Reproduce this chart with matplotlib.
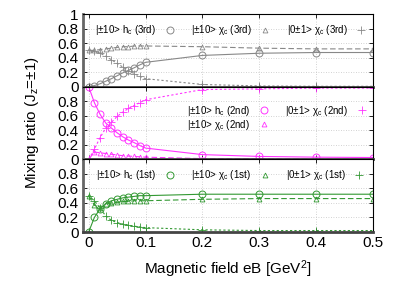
import matplotlib
matplotlib.use("Agg")
import matplotlib.pyplot as plt
from matplotlib.lines import Line2D

plt.rcParams['font.family'] = ['Liberation Sans', 'DejaVu Sans']
plt.rcParams['mathtext.fontset'] = 'custom'
plt.rcParams['mathtext.rm'] = 'Liberation Sans'
plt.rcParams['mathtext.it'] = 'Liberation Sans:italic'

eB = [0.0, 0.01, 0.02, 0.03, 0.04, 0.05, 0.06, 0.07, 0.08, 0.09, 0.10, 0.2, 0.3, 0.4, 0.5]

# 3rd
hc3 = [0.0, 0.015, 0.04, 0.075, 0.11, 0.15, 0.19, 0.225, 0.26, 0.30, 0.335, 0.43, 0.46, 0.47, 0.47]
chi3 = [0.50, 0.50, 0.51, 0.52, 0.53, 0.54, 0.55, 0.55, 0.56, 0.56, 0.56, 0.55, 0.53, 0.52, 0.52]
p3 = [0.50, 0.49, 0.46, 0.42, 0.37, 0.32, 0.27, 0.22, 0.18, 0.14, 0.11, 0.03, 0.01, 0.005, 0.005]
# 2nd
hc2 = [1.0, 0.78, 0.62, 0.50, 0.43, 0.365, 0.31, 0.265, 0.23, 0.19, 0.155, 0.065, 0.04, 0.03, 0.025]
chi2 = [0.0, 0.10, 0.09, 0.08, 0.07, 0.06, 0.05, 0.045, 0.04, 0.035, 0.03, 0.01, 0.005, 0.0, 0.0]
p2 = [0.0, 0.14, 0.30, 0.43, 0.51, 0.59, 0.65, 0.70, 0.74, 0.78, 0.82, 0.96, 0.97, 0.98, 0.98]
# 1st
hc1 = [0.0, 0.20, 0.32, 0.39, 0.43, 0.45, 0.47, 0.48, 0.49, 0.50, 0.50, 0.52, 0.52, 0.52, 0.52]
chi1 = [0.50, 0.37, 0.33, 0.38, 0.40, 0.41, 0.42, 0.42, 0.43, 0.43, 0.43, 0.45, 0.46, 0.46, 0.46]
p1 = [0.50, 0.43, 0.33, 0.22, 0.16, 0.13, 0.11, 0.09, 0.08, 0.07, 0.06, 0.03, 0.02, 0.02, 0.02]

xticks = [0, 0.1, 0.2, 0.3, 0.4, 0.5]
yticks = [0, 0.2, 0.4, 0.6, 0.8, 1]

panels = [
    (hc3, chi3, p3, '#888888', '3rd'),
    (hc2, chi2, p2, '#ff33ff', '2nd'),
    (hc1, chi1, p1, '#339933', '1st'),
]

fig = plt.figure(figsize=(4.15, 2.91), dpi=100)
L, R, T, B = 83/415, 373/415, 1-14/291, 1-232/291
h = (T - B) / 3
axes = []
for i, (hc, chi, p, col, lab) in enumerate(panels):
    ax = fig.add_axes([L, T - (i+1)*h, R-L, h])
    axes.append(ax)
    ax.plot(eB, hc, '-', color=col, lw=0.8, marker='o', ms=5, mfc='none', mec=col, mew=0.7)
    ax.plot(eB, chi, color=col, lw=0.8, ls=(0, (5, 2.5)), marker='^', ms=3.5, mfc='none', mec=col, mew=0.6)
    ax.plot(eB, p, color=col, lw=0.8, ls=(0, (2, 2)), marker='+', ms=5.5, mec=col, mew=0.6)
    ax.set_xlim(-0.01, 0.5)
    ax.set_ylim(0, 1)
    ax.set_xticks(xticks)
    ax.set_yticks(yticks)
    ax.grid(True, ls=(0, (1, 2)), color='#c4c4c4', lw=0.6)
    ax.tick_params(direction='in', length=3, width=0.6, top=True, right=True, labelsize=11, pad=3)
    if i == 0:
        ax.set_yticklabels(['0', '0.2', '0.4', '0.6', '0.8', '1'])
    else:
        ax.set_yticklabels(['0', '0.2', '0.4', '0.6', '0.8', ''])
    if i < 2:
        ax.set_xticklabels([])
    else:
        ax.set_xticklabels(['0', '0.1', '0.2', '0.3', '0.4', '0.5'])
    for s in ['top', 'right']:
        ax.spines[s].set_linewidth(0.8)
        ax.spines[s].set_color('black')
    ax.spines['bottom'].set_linewidth(2.0)
    ax.spines['bottom'].set_color('#444444')
    ax.spines['left'].set_linewidth(2.0)
    ax.spines['left'].set_color('#666666')
    for s in ax.spines.values():
        s.set_zorder(5)

    hh = [
        Line2D([], [], ls='none', marker='o', ms=5, mfc='none', mec=col, mew=0.7),
        Line2D([], [], ls='none', marker='^', ms=3.5, mfc='none', mec=col, mew=0.6),
        Line2D([], [], ls='none', marker='+', ms=5.5, mec=col, mew=0.6),
    ]
    labels = ['|±10> h$_\\mathrm{c}$ (%s)' % lab,
              '|±10> χ$_\\mathrm{c}$ (%s)' % lab,
              '|0±1> χ$_\\mathrm{c}$ (%s)' % lab]
    if i == 1:
        leg = ax.legend(hh, labels, ncol=2, loc='center', bbox_to_anchor=(0.67, 0.575),
                        frameon=False, markerfirst=False, fontsize=7, handlelength=1.2,
                        handletextpad=0.8, columnspacing=1.6, labelspacing=0.0,
                        borderpad=0, borderaxespad=0)
    else:
        leg = ax.legend(hh, labels, ncol=3, loc='center', bbox_to_anchor=(0.51, 0.78),
                        frameon=False, markerfirst=False, fontsize=7, handlelength=1.2,
                        handletextpad=0.8, columnspacing=1.6, borderpad=0, borderaxespad=0)

axes[2].set_xlabel('Magnetic field eB [GeV$^2$]', fontsize=11, labelpad=6)
fig.text(32/415, 1-123/291, 'Mixing ratio (J$_\\mathrm{z}$=±1)', rotation=90,
         fontsize=11, ha='center', va='center')

fig.savefig('out.png', dpi=100)
